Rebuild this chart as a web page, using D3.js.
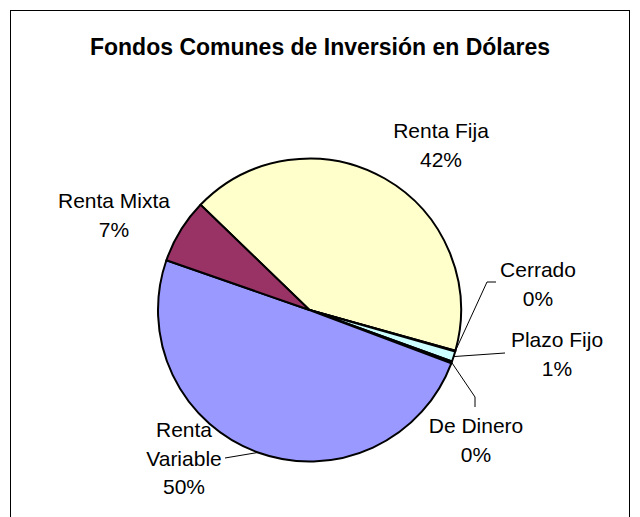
<!DOCTYPE html>
<html>
<head>
<meta charset="utf-8">
<script src="https://cdn.jsdelivr.net/npm/d3@7"></script>
<style>
  html, body { margin: 0; padding: 0; background: #ffffff; }
  svg { display: block; }
  text { font-family: Arial, "Liberation Sans", sans-serif; fill: #000; }
</style>
</head>
<body>
<div id="chart"></div>
<script>
// Fund categories, in clockwise order starting from Renta Fija
const categories = ["Renta Fija", "Cerrado", "Plazo Fijo", "De Dinero", "Renta Variable", "Renta Mixta"];
// Share of each fund type (%)
const shares = [42.1, 0.1, 1.1, 0.2, 49.6, 6.9];
// Label lines for each slice (name lines; percentage is appended)
const labelLines = [["Renta Fija"], ["Cerrado"], ["Plazo Fijo"], ["De Dinero"], ["Renta", "Variable"], ["Renta Mixta"]];
const colors = ["#FFFFCC", "#660066", "#CCFFFF", "#FF8080", "#9999FF", "#993366"];

const width = 640, height = 517;
const cx = 309.5, cy = 310, radius = 151.5;
const fontSize = 21, lineH = 28.5;

// Label placement: text centre x, first baseline y, and optional leader path after the arc point
const labelLayout = [
  { x: 441, y: 138, leader: null },
  { x: 538, y: 277, leader: [[487, 282], [496, 282]] },
  { x: 557, y: 347, leader: [[505, 353]] },
  { x: 476, y: 433, leader: [[475, 397], [475, 407]] },
  { x: 184, y: 437, leader: [[225, 458]] },
  { x: 114, y: 208, leader: null }
];

const data = categories.map((c, i) => ({ name: c, value: shares[i], color: colors[i], lines: labelLines[i], layout: labelLayout[i] }));

const svg = d3.select("#chart").append("svg")
  .attr("width", width).attr("height", height);

// Chart area frame
svg.append("rect")
  .attr("x", 10.5).attr("y", 10.5)
  .attr("width", 619).attr("height", 530)
  .attr("fill", "#fff").attr("stroke", "#000").attr("stroke-width", 1);

svg.append("text")
  .attr("x", 320).attr("y", 55)
  .attr("text-anchor", "middle")
  .attr("font-weight", "bold")
  .attr("font-size", 23)
  .text("Fondos Comunes de Inversión en Dólares");

const startAngle = -46 * Math.PI / 180;
const pie = d3.pie().value(d => d.value).sort(null)
  .startAngle(startAngle).endAngle(startAngle + 2 * Math.PI);
const arcs = pie(data);
const arc = d3.arc().innerRadius(0).outerRadius(radius);

const g = svg.append("g").attr("transform", `translate(${cx},${cy})`);
g.selectAll("path.slice").data(arcs).join("path")
  .attr("class", "slice")
  .attr("d", arc)
  .attr("fill", d => d.data.color)
  .attr("stroke", "#000")
  .attr("stroke-width", 2)
  .attr("stroke-linejoin", "round");

// Leader lines start on the rim at each slice's mid-angle
const line = d3.line();
arcs.forEach(a => {
  const lay = a.data.layout;
  if (!lay.leader) return;
  const mid = (a.startAngle + a.endAngle) / 2;
  const p0 = [cx + radius * Math.sin(mid), cy - radius * Math.cos(mid)];
  svg.append("path")
    .attr("d", line([p0, ...lay.leader]))
    .attr("fill", "none")
    .attr("stroke", "#000")
    .attr("stroke-width", 1);
});

// Slice labels: name lines followed by rounded percentage
arcs.forEach(a => {
  const lay = a.data.layout;
  const lines = [...a.data.lines, Math.round(a.data.value) + "%"];
  const t = svg.append("text")
    .attr("text-anchor", "middle")
    .attr("font-size", fontSize);
  lines.forEach((s, i) => {
    t.append("tspan").attr("x", lay.x).attr("y", lay.y + i * lineH).text(s);
  });
});
</script>
</body>
</html>
